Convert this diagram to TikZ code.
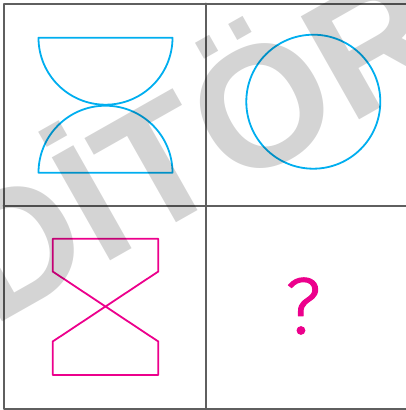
\documentclass[tikz,border=0pt]{standalone}
\usepackage{fontspec}
\setmainfont{Liberation Sans}
\newfontfamily\markfont{Liberation Sans}
\newfontfamily\qfont{Fira Sans Light}[FakeBold=1.3]
\definecolor{cyanline}{RGB}{0,174,239}
\definecolor{magline}{RGB}{236,0,140}
\definecolor{gridgray}{RGB}{95,95,95}
\begin{document}
\begin{tikzpicture}[x=1pt,y=-1pt,line join=round,line cap=round]
			\useasboundingbox (0,0) rectangle (405,410);
			\def\r{67}
			\path (3.5,3.5) coordinate (A) (205.5,205.5) coordinate (M) (408,408.5) coordinate (C);
			\draw[gridgray,line width=2pt] (A) rectangle (C) (M|-A)--(M|-C) (A|-M)--(C|-M);
			\draw[cyanline,line width=1.8pt] (38.5,37.7)--(172.5,37.7) arc[start angle=0,end angle=180,radius=\r]--cycle;
			\draw[cyanline,line width=1.8pt] (38.5,172.7)--(172.5,172.7) arc[start angle=0,end angle=-180,radius=\r]--cycle;
			\draw[cyanline,line width=1.8pt] (313.3,101.7) circle[radius=\r];
			\draw[magline,line width=1.8pt] (52.7,238.7)--(158.3,238.7)--(158.3,271.5)--(52.7,341.5)--(52.7,375)--(158.3,375)--(158.3,341.5)--(52.7,271.5)--cycle;
			\node[magline,font=\qfont\fontsize{80}{80}\selectfont] (q) at (303,306) {?};
			\node[rotate=29.5,anchor=base west,inner sep=0,text=black,text opacity=.17,font=\markfont\bfseries\fontsize{172}{172}\selectfont] (mark) at (-108,384) {EDİTÖR};
\end{tikzpicture}
\end{document}
